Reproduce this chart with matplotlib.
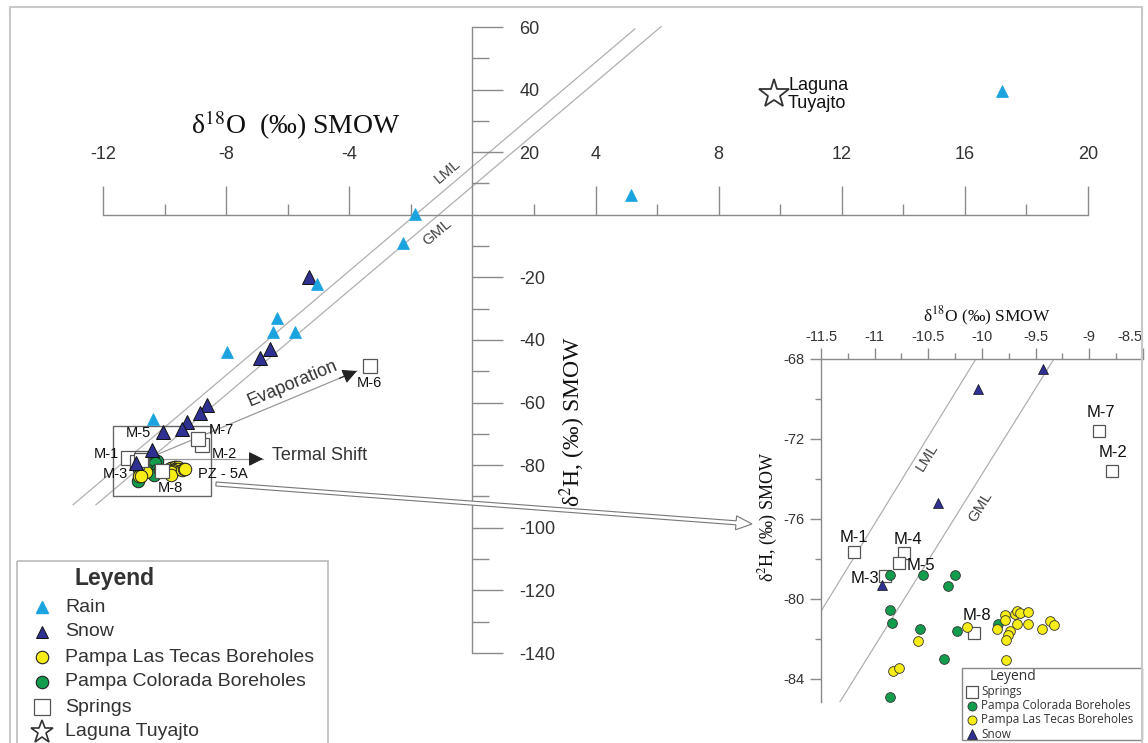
import matplotlib
matplotlib.use('Agg')
import matplotlib.pyplot as plt
from matplotlib.patches import Rectangle, FancyArrow
from matplotlib.ticker import FixedLocator, MultipleLocator
import numpy as np

plt.rcParams['font.family'] = ['Liberation Sans', 'DejaVu Sans']
plt.rcParams['mathtext.fontset'] = 'stix'
plt.rcParams['axes.unicode_minus'] = False

# ---------------- data ----------------
rain_o = [17.2, 5.15, -1.86, -2.25, -5.05, -6.35, -6.48, -5.76, -7.97, -10.38]
rain_h = [39.5, 6.4, 0.3, -8.9, -22.0, -32.9, -37.4, -37.4, -43.8, -65.2]

snow_o = [-5.31, -6.57, -6.90, -8.62, -8.85, -9.27, -9.43, -10.04, -10.41, -10.93]
snow_h = [-19.8, -42.8, -45.7, -60.7, -63.3, -66.1, -68.5, -69.5, -75.2, -79.3]

spring_names = ['M-1', 'M-2', 'M-3', 'M-4', 'M-5', 'M-6', 'M-7', 'M-8']
spring_o = [-11.19, -8.79, -10.90, -10.73, -10.77, -3.33, -8.91, -10.07]
spring_h = [-77.65, -73.6, -78.85, -77.7, -78.2, -48.2, -71.6, -81.7]

colorada_o = [-10.86, -10.55, -10.25, -10.32, -10.86, -10.84, -10.58, -10.23, -9.85, -10.35, -10.86]
colorada_h = [-78.8, -78.8, -78.8, -79.35, -80.55, -81.2, -81.5, -81.6, -81.25, -83.0, -84.9]

tecas_o = [-10.60, -10.83, -10.77, -10.14, -9.86, -9.79, -9.79, -9.69, -9.67, -9.65, -9.57,
           -9.67, -9.57, -9.74, -9.76, -9.78, -9.78, -9.44, -9.37, -9.33]
tecas_h = [-82.1, -83.6, -83.45, -81.4, -81.5, -80.8, -81.05, -80.75, -80.6, -80.7, -80.65,
           -81.25, -81.25, -81.6, -81.8, -82.05, -83.05, -81.5, -81.1, -81.3]

laguna_o = [9.8]
laguna_h = [38.5]

# meteoric lines (slope, intercept, x-start, x-end) as drawn in each panel
main_lml = (8.33, 15.4, -12.97, 5.28)
main_gml = (8.32, 9.1, -12.23, 6.13)
inset_lml = (8.74, 19.9, -11.6, -9.9)
inset_gml = (8.6, 12.24, -11.6, -9.2)

main_xticks = [-12, -8, -4, 4, 8, 12, 16, 20]
main_xminor = [-10, -6, -2, 2, 6, 10, 14, 18]
main_yticks = [60, 40, 20, -20, -40, -60, -80, -100, -120, -140]
main_yminor = [50, 30, 10, -10, -30, -50, -70, -90, -110, -130]
inset_xticks = [-11.5, -11, -10.5, -10, -9.5, -9, -8.5]
inset_yticks = [-68, -72, -76, -80, -84]

# ---------------- style ----------------
C_RAIN = '#1ba3e0'
C_SNOW = '#2e3192'
C_GREEN = '#129c4c'
C_YELLOW = '#f6ec16'
C_AX = '#8a8a8a'
C_TXT = '#333333'
C_LINE = '#b0b0b0'

W, H = 1148, 743
fig = plt.figure(figsize=(W / 100, H / 100), dpi=100)


def fr(x0, y0, x1, y1):
    return [x0 / W, 1 - y1 / H, (x1 - x0) / W, (y1 - y0) / H]


# ================= main axes =================
ax = fig.add_axes(fr(103, 27, 1088, 653))
ax.set_xlim(-12, 20)
ax.set_ylim(-140, 60)
ax.patch.set_visible(False)
for s in ['left', 'bottom']:
    ax.spines[s].set_visible(False)
ax.spines['top'].set_position(('data', 0))
ax.spines['right'].set_position(('data', 0))
for s in ['top', 'right']:
    ax.spines[s].set_color(C_AX)
    ax.spines[s].set_linewidth(1.0)
ax.xaxis.tick_top()
ax.yaxis.tick_right()
ax.xaxis.set_major_locator(FixedLocator(main_xticks))
ax.xaxis.set_minor_locator(FixedLocator(main_xminor))
ax.yaxis.set_major_locator(FixedLocator(main_yticks))
ax.yaxis.set_minor_locator(FixedLocator(main_yminor))
ax.tick_params(axis='x', which='major', direction='out', length=21, width=1,
               color=C_AX, pad=16, labelsize=13, labelcolor=C_TXT)
ax.tick_params(axis='x', which='minor', direction='out', length=8, width=1, color=C_AX)
ax.tick_params(axis='y', which='major', direction='out', length=22, width=1,
               color=C_AX, pad=12, labelsize=13, labelcolor=C_TXT)
ax.tick_params(axis='y', which='minor', direction='out', length=12, width=1, color=C_AX)

for (m, b, x0, x1) in [main_lml, main_gml]:
    xs = np.array([x0, x1])
    ax.plot(xs, m * xs + b, color=C_LINE, lw=0.9, clip_on=False, zorder=1)


def head_arrow(a, start, end):
    a.plot([start[0], end[0]], [start[1], end[1]], color='#999999', lw=0.9, zorder=2)
    d = np.array(end) - np.array(start)
    pre = np.array(end) - d * 0.08
    a.annotate('', xy=end, xytext=tuple(pre),
               arrowprops=dict(arrowstyle='-|>', color='#222222', lw=0.8,
                               mutation_scale=22, shrinkA=0, shrinkB=0), zorder=6)


head_arrow(ax, (-10.9, -79.3), (-3.75, -49.9))
head_arrow(ax, (-10.2, -78.0), (-6.8, -78.0))

# zoom box
ax.add_patch(Rectangle((-11.68, -89.8), 3.18, 22.4, fill=False, ec='#666666', lw=1.0, zorder=2))

ms_main = dict(clip_on=False, linestyle='none')
ax.plot(colorada_o, colorada_h, marker='o', ms=9, mfc=C_GREEN, mec='#222222', mew=0.7, zorder=3, **ms_main)
ax.plot(tecas_o, tecas_h, marker='o', ms=9, mfc=C_YELLOW, mec='#222222', mew=0.7, zorder=3, **ms_main)
ax.plot(spring_o, spring_h, marker='s', ms=10, mfc='white', mec='#555555', mew=0.9, zorder=4, **ms_main)
ax.plot(snow_o, snow_h, marker='^', ms=10, mfc=C_SNOW, mec='#111111', mew=0.7, zorder=5, **ms_main)
ax.plot(rain_o, rain_h, marker='^', ms=9, mfc=C_RAIN, mec=C_RAIN, mew=0.5, zorder=5, **ms_main)
ax.plot(laguna_o, laguna_h, marker='*', ms=22, mfc='white', mec='#333333', mew=1.3, zorder=5, **ms_main)

ax.annotate('Laguna\nTuyajto', (laguna_o[0], laguna_h[0]), xytext=(14, 0),
            textcoords='offset pixels', ha='left', va='center', fontsize=13,
            color='#111111', linespacing=1.05)

main_lab = {'M-1': (-9, 4, 'right'), 'M-3': (-9, -12, 'right'), 'M-5': (-2, 27, 'center'),
            'M-7': (11, 9, 'left'), 'M-2': (10, -9, 'left'), 'M-8': (8, -17, 'center'),
            'M-6': (0, -17, 'center')}
for n, o, h in zip(spring_names, spring_o, spring_h):
    if n in main_lab:
        dx, dy, ha = main_lab[n]
        ax.annotate(n, (o, h), xytext=(dx, dy), textcoords='offset pixels', ha=ha,
                    va='center', fontsize=10.5, color='#111111', zorder=7)
ax.annotate('PZ - 5A', (tecas_o[-1], tecas_h[-1]), xytext=(13, -5), textcoords='offset pixels',
            ha='left', va='center', fontsize=10.5, color='#111111', zorder=7)

# ================= inset axes =================
ax2 = fig.add_axes(fr(821, 359, 1143, 702))
ax2.set_xlim(-11.5, -8.5)
ax2.set_ylim(-85.15, -68)
ax2.patch.set_visible(False)
for s in ['right', 'bottom']:
    ax2.spines[s].set_visible(False)
for s in ['top', 'left']:
    ax2.spines[s].set_color(C_AX)
    ax2.spines[s].set_linewidth(1.0)
ax2.xaxis.tick_top()
ax2.xaxis.set_major_locator(FixedLocator(inset_xticks))
ax2.xaxis.set_minor_locator(MultipleLocator(0.25))
ax2.yaxis.set_major_locator(FixedLocator(inset_yticks))
ax2.yaxis.set_minor_locator(MultipleLocator(2))
ax2.xaxis.set_major_formatter(plt.FuncFormatter(lambda v, p: ('%g' % v)))
ax2.tick_params(axis='both', which='major', direction='out', length=8, width=1,
                color=C_AX, labelsize=10.5, labelcolor=C_TXT)
ax2.tick_params(axis='x', which='major', pad=3)
ax2.tick_params(axis='y', which='major', pad=4)
ax2.tick_params(axis='both', which='minor', direction='out', length=4, width=1, color=C_AX)
last_tick = ax2.xaxis.get_major_ticks()[-1]
last_tick.label2.set_horizontalalignment('right')
last_tick.label1.set_horizontalalignment('right')

for (m, b, x0, x1) in [inset_lml, inset_gml]:
    xs = np.array([x0, x1])
    ax2.plot(xs, m * xs + b, color=C_LINE, lw=0.9, zorder=1)

ms_in = dict(linestyle='none')
ax2.plot(spring_o, spring_h, marker='s', ms=8, mfc='white', mec='#555555', mew=0.9, zorder=3, **ms_in)
ax2.plot(colorada_o, colorada_h, marker='o', ms=7, mfc=C_GREEN, mec='#333333', mew=0.6, zorder=4, **ms_in)
ax2.plot(tecas_o, tecas_h, marker='o', ms=7, mfc=C_YELLOW, mec='#333333', mew=0.6, zorder=4, **ms_in)
ax2.plot(snow_o, snow_h, marker='^', ms=7, mfc=C_SNOW, mec='#111111', mew=0.5, zorder=5, **ms_in)

in_lab = {'M-1': (0, 14, 'center'), 'M-4': (4, 13, 'center'), 'M-5': (7, -2, 'left'),
          'M-3': (-6, -3, 'right'), 'M-8': (2, 18, 'center'), 'M-7': (2, 18, 'center'),
          'M-2': (1, 18, 'center')}
for n, o, h in zip(spring_names, spring_o, spring_h):
    if n in in_lab:
        dx, dy, ha = in_lab[n]
        ax2.annotate(n, (o, h), xytext=(dx, dy), textcoords='offset pixels', ha=ha,
                     va='center', fontsize=12, color='#111111', zorder=7)

# ================= overlay (pixel coordinates) =================
ov = fig.add_axes([0, 0, 1, 1], zorder=10)
ov.set_xlim(0, W)
ov.set_ylim(H, 0)
ov.axis('off')

# figure frame
ov.plot([10, 10, 1142, 1142], [745, 7, 7, 745], color='#c8c8c8', lw=1.5, clip_on=False)

serif = ['Liberation Serif', 'DejaVu Serif']
ov.text(296, 125, r'δ$^{18}$O  (‰) SMOW', fontsize=20, family=serif, ha='center', va='center', color='#111111')
ov.text(573, 422, r'δ$^{2}$H, (‰) SMOW', fontsize=17, family=serif, rotation=90, ha='center', va='center', color='#111111')
ov.text(987, 316, r'δ$^{18}$O (‰) SMOW', fontsize=12.5, family=serif, ha='center', va='center', color='#111111')
ov.text(768, 517, r'δ$^{2}$H, (‰) SMOW', fontsize=13, family=serif, rotation=90, ha='center', va='center', color='#111111')

ov.text(448, 171, 'LML', fontsize=11, rotation=40.3, ha='center', va='center', color='#444444', rotation_mode='anchor')
ov.text(437, 232, 'GML', fontsize=11, rotation=40.3, ha='center', va='center', color='#444444', rotation_mode='anchor')
ov.text(927, 457, 'LML', fontsize=11, rotation=58.5, ha='center', va='center', color='#444444', rotation_mode='anchor')
ov.text(980, 507, 'GML', fontsize=11, rotation=58.5, ha='center', va='center', color='#444444', rotation_mode='anchor')

ov.text(293, 384, 'Evaporation', fontsize=13, rotation=22.8, ha='center', va='center', color='#333333', rotation_mode='anchor')
ov.text(272, 456, 'Termal Shift', fontsize=13, ha='left', va='center', color='#333333')

# hollow arrow to the inset
ov.add_patch(FancyArrow(216, 484, 752 - 216, 524 - 484, width=4, head_width=14, head_length=16,
                        length_includes_head=True, fc='white', ec='#777777', lw=0.8))

# main legend
ov.add_patch(Rectangle((17, 561), 311, 200, fill=False, ec='#bbbbbb', lw=1.2, clip_on=False))
ov.text(75, 578, 'Leyend', fontsize=16.5, fontweight='bold', ha='left', va='center', color=C_TXT)
leg_items = [
    ('Rain', dict(marker='^', ms=9, mfc=C_RAIN, mec=C_RAIN)),
    ('Snow', dict(marker='^', ms=9, mfc=C_SNOW, mec='#111111', mew=0.7)),
    ('Pampa Las Tecas Boreholes', dict(marker='o', ms=9, mfc=C_YELLOW, mec='#222222', mew=0.8)),
    ('Pampa Colorada Boreholes', dict(marker='o', ms=9, mfc=C_GREEN, mec='#222222', mew=0.8)),
    ('Springs', dict(marker='s', ms=11, mfc='white', mec='#555555', mew=0.9)),
    ('Laguna Tuyajto', dict(marker='*', ms=17, mfc='white', mec='#333333', mew=1.2)),
]
for i, (lab, st) in enumerate(leg_items):
    yy = 607 + i * 25
    ov.plot([42], [yy], linestyle='none', clip_on=False, **st)
    ov.text(65, yy, lab, fontsize=14, ha='left', va='center', color=C_TXT)

# inset legend
osf = ['Open Sans', 'DejaVu Sans']
ov.add_patch(Rectangle((962, 668), 180, 72, fill=False, ec='#888888', lw=1.0))
ov.text(1013, 677, 'Leyend', fontsize=10, family=osf, ha='center', va='center', color=C_TXT)
in_items = [
    ('Springs', dict(marker='s', ms=8, mfc='white', mec='#555555', mew=0.9)),
    ('Pampa Colorada Boreholes', dict(marker='o', ms=6.5, mfc=C_GREEN, mec='#333333', mew=0.6)),
    ('Pampa Las Tecas Boreholes', dict(marker='o', ms=6.5, mfc=C_YELLOW, mec='#333333', mew=0.6)),
    ('Snow', dict(marker='^', ms=7, mfc=C_SNOW, mec='#111111', mew=0.5)),
]
for i, (lab, st) in enumerate(in_items):
    yy = 692 + i * 14
    ov.plot([972], [yy], linestyle='none', **st)
    ov.text(981, yy, lab, fontsize=8.5, family=osf, ha='left', va='center', color=C_TXT)

fig.savefig('out.png', dpi=100)
